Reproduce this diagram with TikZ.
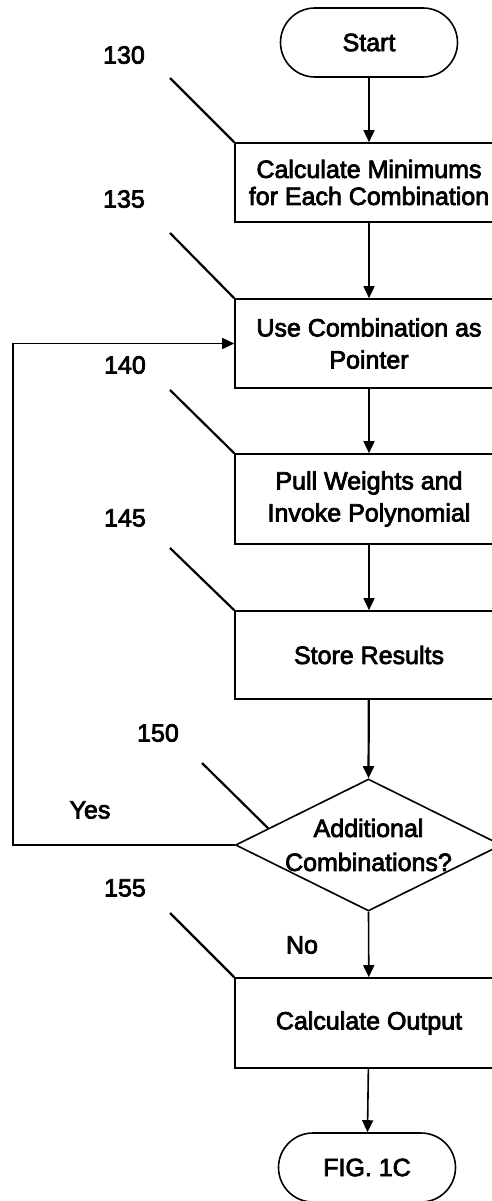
\documentclass[tikz,border=0pt]{standalone}
\usepackage{fontspec}
\setmainfont{Liberation Sans}[BoldFont=Liberation Sans, BoldFeatures={FakeBold=3}]
\usetikzlibrary{arrows.meta,shapes.geometric,shapes.misc,calc}
\begin{document}
\begin{tikzpicture}[x=1pt,y=-1pt,
  every node/.style={font=\fontsize{25}{32}\selectfont\bfseries, inner sep=0pt, align=center},
  box/.style={draw, line width=1.6pt, minimum width=268pt},
  term/.style={draw, line width=1.6pt, rounded rectangle, minimum width=177pt, minimum height=69pt},
  flow/.style={line width=1.6pt, -{Triangle[width=11pt,length=12pt]}},
  leader/.style={line width=2.2pt},
  reflabel/.style={anchor=center}
]
\useasboundingbox (0,0) rectangle (492,1201);
\clip (0,0) rectangle (492,1201);

% flow nodes
\node[term] (start) at (369,42.5) {Start};
\node[box, minimum height=79pt, font=\fontsize{25}{27}\selectfont\bfseries] (b130) at (369,182.5) {Calculate Minimums\\for Each Combination};
\node[box, minimum height=89pt] (b135) at (369,343.5) {Use Combination as\\Pointer};
\node[box, minimum height=90pt] (b140) at (369,499) {Pull Weights and\\Invoke Polynomial};
\node[box, minimum height=88pt] (b145) at (369,655) {Store Results};
\node[draw, diamond, line width=1.6pt, minimum width=266pt, minimum height=132pt] (dec) at (368.5,845) {};
\node[font=\fontsize{25}{34}\selectfont\bfseries] (dectext) at (dec.center) {Additional\\Combinations?};
\node[box, minimum height=90pt] (b155) at (369,1023) {Calculate Output};
\node[term] (fig) at (367,1167.5) {FIG. 1C};

% connectors
\draw[flow] (start) -- (b130);
\draw[flow] (b130) -- (b135);
\draw[flow] (b135) -- (b140);
\draw[flow] (b140) -- (b145);
\draw[flow, line width=2.2pt] (b145) -- (dec.north);
\draw[flow] (dec.south) -- (b155);
\draw[flow] (b155) -- (fig);
\coordinate (loopc) at (13,845);
\draw[flow] (dec.west) -- (loopc) |- (b135.west);

% reference labels and leaders
\node[reflabel] (r130) at (124,55) {130};
\node[reflabel] (r135) at (124,199) {135};
\node[reflabel] (r140) at (125,365) {140};
\node[reflabel] (r145) at (125,518) {145};
\node[reflabel] (r150) at (158,733) {150};
\node[reflabel] (r155) at (125,888) {155};
\node[reflabel] (yes) at (90,810) {Yes};
\node[reflabel] (no) at (302,945) {No};

\coordinate (l130) at (170,78);
\coordinate (l135) at (170,233);
\coordinate (l140) at (170,390);
\coordinate (l145) at (170,548);
\coordinate (l150) at (202,763);
\coordinate (l155) at (170,913);
\draw[leader] (l130) -- (b130.north west);
\draw[leader] (l135) -- (b135.north west);
\draw[leader] (l140) -- (b140.north west);
\draw[leader] (l145) -- (b145.north west);
\draw[leader] (l150) -- ($(dec.west)!0.25!(dec.north)$);
\draw[leader] (l155) -- (b155.north west);
\end{tikzpicture}
\end{document}
